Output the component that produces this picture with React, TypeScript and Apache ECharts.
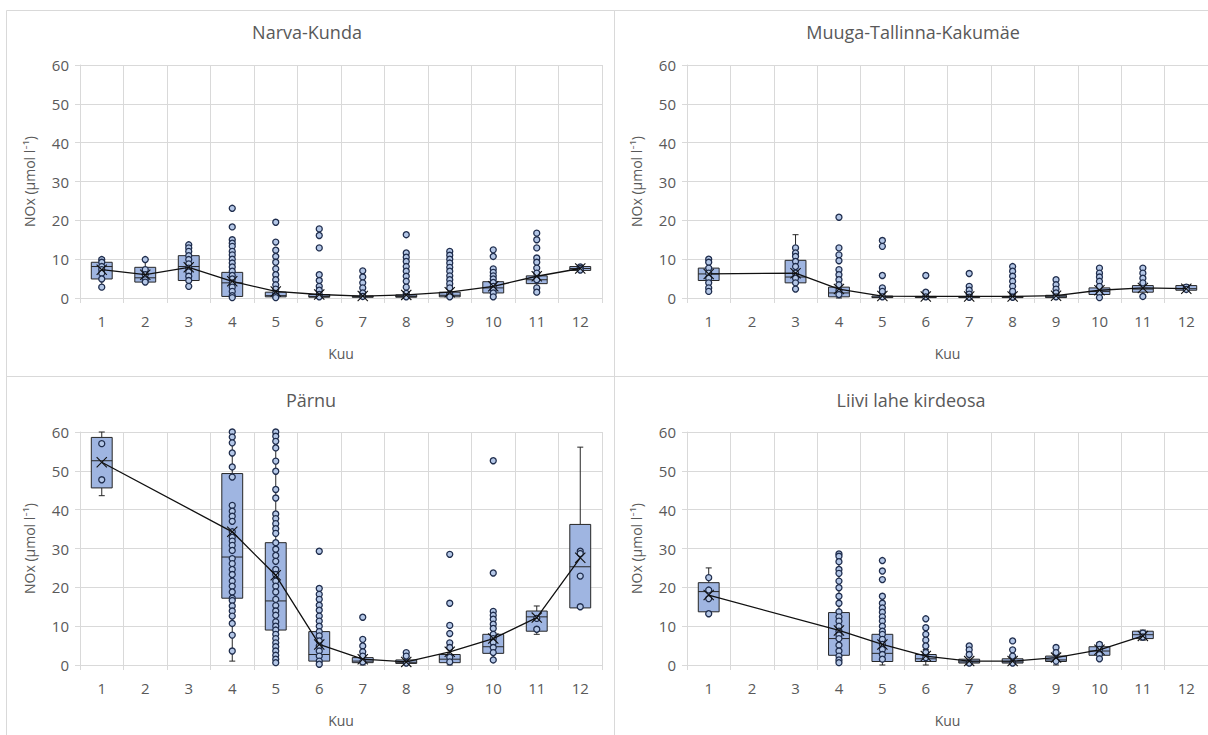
import React, { useEffect, useRef } from "react";
import * as echarts from "echarts";

const months = ["1", "2", "3", "4", "5", "6", "7", "8", "9", "10", "11", "12"];
const yTicks = [0, 10, 20, 30, 40, 50, 60];
const titles = ["Narva-Kunda", "Muuga-Tallinna-Kakumäe", "Pärnu", "Liivi lahe kirdeosa"];
const yName = "NOx (µmol l⁻¹)";
const xName = "Kuu";

// [min, Q1, median, Q3, max] per month
const narvaBox = [
  [2.8, 4.9, 8.1, 9.2, 10.3], [4.0, 4.1, 5.2, 7.9, 9.9], [3.0, 4.5, 8.1, 10.9, 13.7], [0, 0.4, 3.9, 6.6, 15.0],
  [0, 0.3, 0.6, 1.5, 2.3], [0, 0.2, 0.4, 0.9, 1.6], [0, 0.2, 0.3, 0.5, 0.9], [0, 0.2, 0.4, 0.8, 1.6],
  [0, 0.3, 0.7, 1.5, 3.2], [0.3, 1.3, 2.6, 4.2, 7.5], [1.3, 3.7, 4.7, 5.7, 7.7], [7.0, 7.1, 7.6, 8.1, 8.3],
];
const narvaMean = [7.3, 6.0, 7.9, 4.3, 1.7, 0.9, 0.5, 0.8, 1.5, 3.0, 5.6, 7.6];
const narvaPts = [
  [9.9, 9.2, 8.1, 7.3, 6.4, 4.9, 2.8],
  [9.9, 7.3, 6.0, 4.7, 4.1],
  [13.7, 12.9, 12.0, 10.9, 9.9, 8.8, 7.7, 6.7, 5.6, 4.5, 3.0],
  [23.1, 18.3, 15.0, 14.1, 13.3, 12.0, 11.1, 10.0, 9.0, 8.0, 6.9, 5.8, 4.9, 3.9, 2.8, 1.7, 0.6, 0.1],
  [19.5, 14.4, 12.3, 10.7, 9.2, 7.5, 6.0, 4.7, 3.4, 2.3, 1.2, 0.5, 0.1],
  [17.8, 16.1, 12.9, 6.0, 4.5, 3.0, 2.0, 0.9, 0.3],
  [7.0, 5.4, 3.9, 2.6, 1.3, 0.4],
  [16.3, 11.6, 10.5, 9.4, 8.1, 6.9, 5.6, 4.3, 2.8, 1.2, 0.3],
  [12.0, 11.0, 10.0, 9.0, 7.9, 6.9, 5.7, 4.7, 3.7, 2.6, 1.0, 0.3],
  [12.4, 10.7, 7.5, 6.6, 5.7, 4.9, 4.0, 3.0, 2.1, 1.3, 0.3],
  [16.7, 15.0, 12.9, 10.3, 9.2, 7.7, 6.4, 4.7, 2.6, 1.5],
  [8.0, 7.6, 7.2],
];

const muugaBox = [
  [1.5, 4.5, 6.2, 7.7, 10.0], null, [2.3, 3.9, 5.4, 9.7, 16.3], [0, 0.3, 1.3, 2.8, 6.0],
  [0, 0.1, 0.2, 0.5, 1.0], [0, 0.1, 0.2, 0.4, 0.8], [0, 0.1, 0.2, 0.4, 0.8], [0, 0.1, 0.2, 0.4, 0.9],
  [0, 0.1, 0.3, 0.7, 1.2], [0, 0.9, 1.7, 2.6, 4.3], [0.4, 1.5, 2.3, 3.2, 5.1], [1.9, 2.0, 2.4, 3.2, 3.4],
];
const muugaMean = [6.2, null, 6.4, 2.3, 0.5, 0.4, 0.4, 0.4, 0.6, 2.0, 2.6, 2.4];
const muugaPts = [
  [10.0, 9.2, 7.7, 6.4, 5.1, 3.9, 2.6, 1.7],
  [],
  [12.9, 11.6, 10.7, 9.4, 8.1, 6.4, 5.1, 3.9, 2.3],
  [20.8, 12.9, 11.1, 9.6, 7.3, 6.0, 4.7, 3.4, 1.9, 0.9],
  [14.8, 13.3, 5.8, 2.6, 1.7, 0.3],
  [5.8, 1.5, 0.3],
  [6.3, 3.0, 2.0, 1.0, 0.2],
  [8.1, 6.9, 5.6, 4.3, 3.0, 1.7, 0.2],
  [4.7, 3.4, 2.3, 1.3, 0.3],
  [7.7, 6.4, 5.4, 4.3, 3.0, 1.3, 0.1],
  [7.7, 6.4, 5.1, 3.9, 0.4],
  [2.8, 2.2],
];

const parnuBox = [
  [43.6, 45.6, 52.6, 58.6, 60.0], null, null, [1.0, 17.2, 27.8, 49.3, 60.0],
  [0.5, 9.0, 16.5, 31.5, 60.0], [0, 1.0, 2.7, 8.6, 19.7], [0, 0.6, 1.0, 1.9, 3.4], [0.1, 0.4, 0.7, 1.3, 2.3],
  [0, 0.6, 1.5, 2.7, 4.5], [1.3, 3.0, 4.7, 7.9, 13.8], [7.9, 8.7, 12.4, 13.9, 15.2], [14.7, 14.7, 25.3, 36.2, 56.1],
];
const parnuMean = [52.2, null, null, 34.3, 23.1, 5.3, 1.5, 0.8, 3.4, 6.8, 12.2, 27.6];
const parnuPts = [
  [57.0, 47.7],
  [],
  [],
  [60.0, 58.7, 57.2, 54.6, 51.0, 48.4, 41.1, 39.6, 38.3, 37.0, 34.3, 32.9, 31.9, 30.8, 29.5, 27.4, 26.1, 24.6, 23.3, 21.6, 20.3, 18.8, 17.2, 16.6, 15.2, 13.9, 12.6, 10.7, 7.7, 3.6],
  [60.0, 58.9, 57.6, 55.9, 52.5, 49.9, 45.2, 43.0, 38.9, 37.7, 36.4, 35.1, 33.9, 31.5, 29.8, 28.2, 26.7, 24.6, 23.3, 21.6, 20.3, 18.8, 16.9, 15.3, 13.9, 12.8, 11.1, 10.0, 9.0, 7.9, 6.8, 5.7, 4.7, 3.6, 2.5, 1.5, 0.6],
  [29.3, 19.7, 18.2, 16.9, 15.4, 14.1, 12.6, 11.3, 10.0, 8.6, 7.5, 6.2, 4.9, 3.6, 2.3, 1.0, 0.2],
  [12.3, 6.6, 4.9, 3.4, 2.3, 0.8],
  [3.2, 2.3, 0.5],
  [28.5, 15.9, 10.2, 8.1, 5.7, 4.5, 2.0, 0.8],
  [52.6, 23.7, 13.8, 12.8, 11.8, 10.5, 9.4, 7.9, 6.8, 5.8, 4.5, 3.2, 1.3],
  [12.0, 9.2],
  [29.3, 28.7, 22.9, 15.0],
];

const liiviBox = [
  [13.0, 13.7, 18.9, 21.2, 25.0], null, null, [0.6, 2.5, 6.8, 13.5, 28.6],
  [0, 0.9, 3.0, 7.9, 17.7], [0, 0.9, 1.6, 2.7, 4.0], [0, 0.5, 0.8, 1.5, 2.7], [0.2, 0.5, 0.8, 1.6, 2.3],
  [0, 0.9, 1.3, 2.3, 3.2], [1.5, 2.5, 3.6, 4.7, 5.7], [6.4, 6.8, 7.8, 8.7, 9.0], null,
];
const liiviMean = [18.0, null, null, 8.9, 5.3, 2.3, 1.0, 1.0, 1.9, 3.9, 7.5, null];
const liiviPts = [
  [22.5, 19.3, 17.1, 13.2],
  [],
  [],
  [28.6, 28.0, 26.6, 24.6, 23.6, 21.6, 19.9, 17.7, 15.9, 13.7, 12.4, 11.3, 10.0, 8.7, 7.7, 6.8, 5.1, 3.6, 2.3, 1.3, 0.6],
  [26.9, 24.2, 22.0, 17.7, 15.9, 14.7, 13.6, 12.4, 11.3, 10.0, 8.7, 7.9, 6.6, 5.3, 4.0, 2.7, 1.5],
  [11.9, 9.6, 7.9, 6.4, 4.9, 3.2, 1.9],
  [4.9, 3.9, 2.7, 0.5],
  [6.2, 3.9, 2.3, 0.5],
  [4.5, 3.2, 1.0],
  [5.3, 4.0, 2.7, 1.6],
  [8.2, 7.2],
  [],
];

const panels = [
  { box: narvaBox, mean: narvaMean, pts: narvaPts },
  { box: muugaBox, mean: muugaMean, pts: muugaPts },
  { box: parnuBox, mean: parnuMean, pts: parnuPts },
  { box: liiviBox, mean: liiviMean, pts: liiviPts },
];

const FONT = "'Open Sans', Lato, sans-serif";
const TXT = "#595959";
const GRIDC = "#d9d9d9";
const BOXFILL = "#9fb5e1";
const DARK = "#262626";
const X_SYMBOL =
  "path://M0.7,0L5,4.3L9.3,0L10,0.7L5.7,5L10,9.3L9.3,10L5,5.7L0.7,10L0,9.3L4.3,5L0,0.7Z";

const gridPos = [
  { left: 80, top: 65 },
  { left: 687, top: 65 },
  { left: 80, top: 432 },
  { left: 687, top: 432 },
];
const titlePos = [
  { x: 302, y: 18 },
  { x: 908, y: 18 },
  { x: 306, y: 386 },
  { x: 906, y: 386 },
];

function renderBox(params: any, api: any) {
  const i = api.value(0);
  const x = api.coord([i, api.value(1)])[0];
  const yMin = api.coord([i, api.value(1)])[1];
  const yQ1 = api.coord([i, api.value(2)])[1];
  const yMed = api.coord([i, api.value(3)])[1];
  const yQ3 = api.coord([i, api.value(4)])[1];
  const yMax = api.coord([i, api.value(5)])[1];
  const bw = api.size([1, 0])[0] * 0.48;
  const cw = 6;
  const ls = { stroke: DARK, lineWidth: 1, fill: "none" };
  return {
    type: "group",
    children: [
      { type: "line", shape: { x1: x, y1: yQ3, x2: x, y2: yMax }, style: ls },
      { type: "line", shape: { x1: x, y1: yQ1, x2: x, y2: yMin }, style: ls },
      { type: "line", shape: { x1: x - cw / 2, y1: yMax, x2: x + cw / 2, y2: yMax }, style: ls },
      { type: "line", shape: { x1: x - cw / 2, y1: yMin, x2: x + cw / 2, y2: yMin }, style: ls },
      {
        type: "rect",
        shape: { x: x - bw / 2, y: yQ3, width: bw, height: Math.max(yQ1 - yQ3, 1) },
        style: { fill: BOXFILL, stroke: DARK, lineWidth: 1 },
      },
      { type: "line", shape: { x1: x - bw / 2, y1: yMed, x2: x + bw / 2, y2: yMed }, style: ls },
    ],
  };
}

export default function App() {
  const ref = useRef<HTMLDivElement>(null);
  useEffect(() => {
    if (!ref.current) return;
    const chart = echarts.init(ref.current, null, { renderer: "svg" });

    const grid = gridPos.map((g) => ({ left: g.left, top: g.top, width: 522, height: 233 }));
    const xAxis = panels.map((_, k) => ({
      type: "category",
      gridIndex: k,
      data: months,
      boundaryGap: true,
      name: xName,
      nameLocation: "middle",
      nameGap: 48,
      nameTextStyle: { color: TXT, fontSize: 14, fontFamily: FONT },
      axisLine: { show: true, lineStyle: { color: GRIDC } },
      axisTick: { show: true, length: 5, lineStyle: { color: GRIDC } },
      splitLine: { show: true, interval: 0, lineStyle: { color: GRIDC } },
      axisLabel: { interval: 0, color: TXT, fontSize: 15, fontFamily: FONT, margin: 15 },
    }));
    const yAxis = panels.map((_, k) => ({
      type: "value",
      gridIndex: k,
      min: yTicks[0],
      max: yTicks[yTicks.length - 1],
      interval: 10,
      name: yName,
      nameLocation: "middle",
      nameGap: 44,
      nameTextStyle: { color: TXT, fontSize: 14, fontFamily: FONT },
      axisLine: { show: true, lineStyle: { color: GRIDC } },
      axisTick: { show: true, length: 5, lineStyle: { color: GRIDC } },
      splitLine: { show: true, lineStyle: { color: GRIDC } },
      axisLabel: { color: TXT, fontSize: 15, fontFamily: FONT, margin: 11 },
    }));

    const series: any[] = [];
    panels.forEach((p, k) => {
      const boxData: any[] = [];
      p.box.forEach((b, i) => {
        if (b) boxData.push([i, ...b]);
      });
      series.push({
        type: "custom",
        xAxisIndex: k,
        yAxisIndex: k,
        renderItem: renderBox,
        encode: { x: 0, y: [1, 2, 3, 4, 5] },
        data: boxData,
        z: 2,
      });
      const ptData: any[] = [];
      p.pts.forEach((arr, i) => arr.forEach((v) => ptData.push([i, v])));
      series.push({
        type: "scatter",
        xAxisIndex: k,
        yAxisIndex: k,
        data: ptData,
        symbol: "circle",
        symbolSize: 6,
        itemStyle: { color: "#b4c7e7", borderColor: "#1f2d4d", borderWidth: 1.3, opacity: 1 },
        z: 3,
      });
      const meanData: any[] = [];
      p.mean.forEach((m, i) => {
        if (m !== null) meanData.push([i, m]);
      });
      series.push({
        type: "line",
        xAxisIndex: k,
        yAxisIndex: k,
        data: meanData,
        symbol: X_SYMBOL,
        symbolSize: 11,
        showSymbol: true,
        itemStyle: { color: "#111" },
        lineStyle: { color: "#111", width: 1.3 },
        z: 4,
      });
    });

    const title = titles.map((t, k) => ({
      text: t,
      left: titlePos[k].x,
      top: titlePos[k].y,
      textAlign: "center",
      textStyle: { color: TXT, fontSize: 18, fontWeight: "normal", fontFamily: FONT },
    }));

    const border = { fill: "none", stroke: GRIDC, lineWidth: 1 };
    const graphic = [
      { type: "rect", shape: { x: 6.5, y: 10.5, width: 608, height: 366 }, style: border, silent: true },
      { type: "rect", shape: { x: 614.5, y: 10.5, width: 600, height: 366 }, style: border, silent: true },
      { type: "rect", shape: { x: 6.5, y: 376.5, width: 608, height: 366 }, style: border, silent: true },
      { type: "rect", shape: { x: 614.5, y: 376.5, width: 600, height: 366 }, style: border, silent: true },
    ];

    chart.setOption({
      animation: false,
      backgroundColor: "#ffffff",
      textStyle: { fontFamily: FONT },
      title,
      grid,
      xAxis,
      yAxis,
      series,
      graphic,
    });
    return () => chart.dispose();
  }, []);
  return (
    <div
      ref={ref}
      style={{ position: "absolute", left: 0, top: 0, width: 1208, height: 735 }}
    />
  );
}
